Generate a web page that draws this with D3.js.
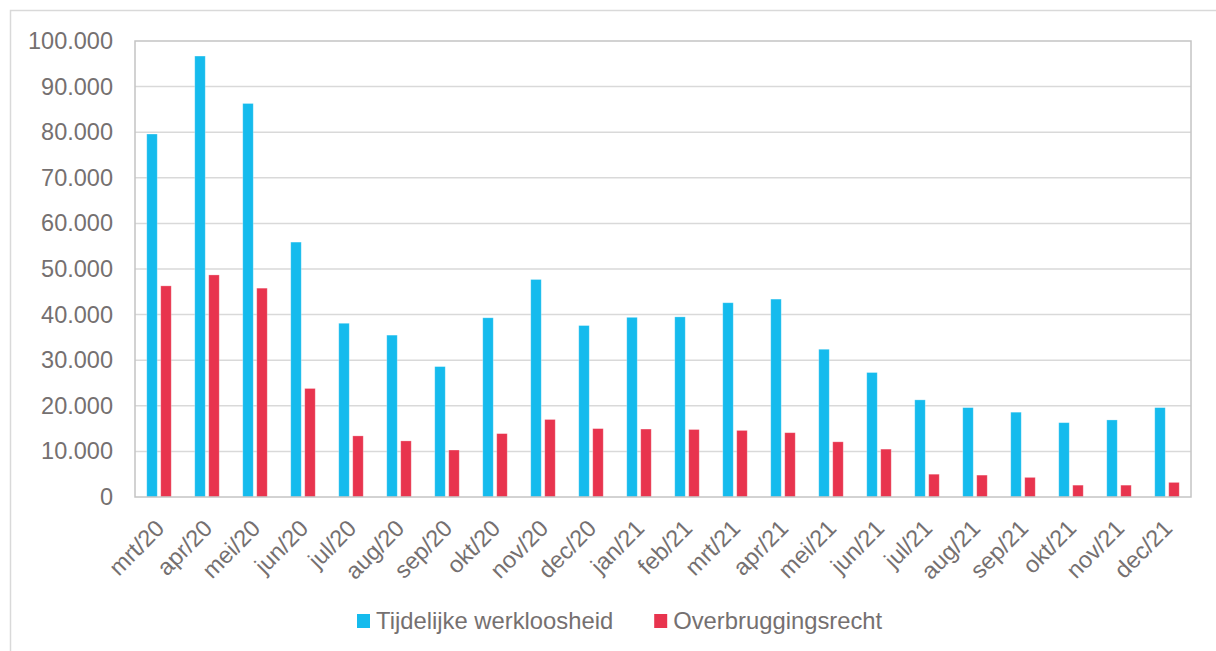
<!DOCTYPE html>
<html lang="nl">
<head>
    <meta charset="UTF-8">
    <title>Tijdelijke werkloosheid en overbruggingsrecht</title>
    <script src="https://d3js.org/d3.v7.min.js"></script>
    <style>
        body { margin: 0; background: #fff; }
        text { font-family: "Liberation Sans", Arial, sans-serif; fill: #757070; }
    </style>
</head>
<body>
<script>
    // maanden
    var months = ['mrt/20','apr/20','mei/20','jun/20','jul/20','aug/20','sep/20','okt/20','nov/20','dec/20',
        'jan/21','feb/21','mrt/21','apr/21','mei/21','jun/21','jul/21','aug/21','sep/21','okt/21','nov/21','dec/21'];

    var series = ['Tijdelijke werkloosheid', 'Overbruggingsrecht'];

    var werkloosheid = [79600, 96700, 86300, 55900, 38100, 35500, 28600, 39300, 47700, 37600,
        39400, 39500, 42600, 43400, 32400, 27300, 21300, 19600, 18600, 16300, 16900, 19600];

    var overbrugging = [46300, 48700, 45800, 23800, 13400, 12300, 10300, 13900, 17000, 15000,
        14900, 14800, 14600, 14100, 12100, 10500, 5000, 4800, 4300, 2600, 2600, 3200];

    var yTicks = [0, 10000, 20000, 30000, 40000, 50000, 60000, 70000, 80000, 90000, 100000];

    var colors = ['#15bbed', '#e8344e'];

    var width = 1216, height = 651;
    var pLeft = 135, pRight = 1191, pTop = 41, pBottom = 497;

    var svg = d3.select('body').append('svg')
        .attr('width', width)
        .attr('height', height);

    // buitenkader
    svg.append('rect')
        .attr('x', 10.5).attr('y', 10.5)
        .attr('width', 1300).attr('height', 700)
        .attr('fill', 'none')
        .attr('stroke', '#d9d9d9')
        .attr('stroke-width', 1.5);

    var x = d3.scaleBand()
        .domain(months)
        .range([pLeft, pRight])
        .paddingInner(0.49)
        .paddingOuter(0.245);

    var xs = d3.scaleBand()
        .domain(series)
        .range([0, x.bandwidth()])
        .paddingInner(0.25);

    var y = d3.scaleLinear()
        .domain([0, 100000])
        .range([pBottom, pTop]);

    var fmt = d3.formatLocale({decimal: ',', thousands: '.', grouping: [3], currency: ['€','']}).format(',');

    // rasterlijnen
    svg.selectAll('.grid')
        .data(yTicks.slice(1, -1))
        .enter()
        .append('line')
        .attr('class', 'grid')
        .attr('x1', pLeft).attr('x2', pRight)
        .attr('y1', function (d) { return y(d); })
        .attr('y2', function (d) { return y(d); })
        .attr('stroke', '#d9d9d9')
        .attr('stroke-width', 1.5);

    // y-as
    var yaxis = d3.axisLeft(y)
        .tickValues(yTicks)
        .tickSize(0)
        .tickPadding(22)
        .tickFormat(fmt);

    var ya = svg.append('g')
        .attr('transform', 'translate(' + pLeft + ',0)')
        .call(yaxis);
    ya.select('.domain').remove();
    ya.selectAll('text')
        .attr('font-family', null)
        .style('font-size', '23.5px')
        .attr('fill', '#757070');

    // staven
    var data = [werkloosheid, overbrugging];
    series.forEach(function (s, si) {
        svg.append('g')
            .selectAll('rect')
            .data(data[si])
            .enter()
            .append('rect')
            .attr('x', function (d, i) { return x(months[i]) + xs(s); })
            .attr('y', function (d) { return y(d); })
            .attr('width', xs.bandwidth())
            .attr('height', function (d) { return y(0) - y(d); })
            .attr('fill', colors[si])
            .attr('stroke', '#ffffff')
            .attr('stroke-opacity', 0.35)
            .attr('stroke-width', 0.8);
    });

    // plotkader
    svg.append('rect')
        .attr('x', pLeft).attr('y', pTop)
        .attr('width', pRight - pLeft).attr('height', pBottom - pTop)
        .attr('fill', 'none')
        .attr('stroke', '#c4c4c4')
        .attr('stroke-width', 1.5);

    // x-as labels
    svg.append('g')
        .selectAll('text')
        .data(months)
        .enter()
        .append('text')
        .attr('transform', function (d) {
            return 'translate(' + (x(d) + x.bandwidth() / 2 + 1) + ',' + (pBottom + 27) + ') rotate(-45)';
        })
        .attr('text-anchor', 'end')
        .attr('dy', '0.35em')
        .style('font-size', '23.5px')
        .text(function (d) { return d; });

    // legenda
    var legend = svg.append('g')
        .attr('transform', 'translate(357,621)');
    var lx = 0;
    series.forEach(function (s, si) {
        var g = legend.append('g').attr('transform', 'translate(' + lx + ',0)');
        g.append('rect')
            .attr('x', 0).attr('y', -7)
            .attr('width', 13).attr('height', 14)
            .attr('fill', colors[si]);
        var t = g.append('text')
            .attr('x', 19)
            .attr('dy', '0.35em')
            .style('font-size', '23.8px')
            .text(s);
        lx += 19 + t.node().getComputedTextLength() + 41;
    });
</script>
</body>
</html>
